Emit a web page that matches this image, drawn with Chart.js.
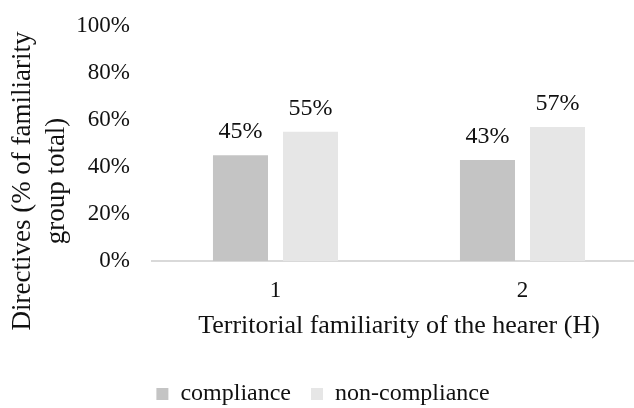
<!DOCTYPE html>
<html>
<head>
<meta charset="utf-8">
<script src="https://cdn.jsdelivr.net/npm/chart.js@4"></script>
<style>
  body { margin: 0; overflow: hidden; background: #fff; }
  #wrap { width: 646px; height: 408px; }
</style>
</head>
<body>
<div id="wrap"><canvas id="grafica"></canvas></div>
<script>
const categorias = ['1', '2'];
const compliance = [45, 43];
const nonCompliance = [55, 57];
const ticksY = [0, 20, 40, 60, 80, 100];
const tituloY = ['Directives (% of familiarity', 'group total)'];

const fuente = '"Liberation Serif", "Times New Roman", serif';

// etiquetas de porcentaje encima de cada barra
const etiquetas = {
    id: 'etiquetas',
    afterDatasetsDraw(chart) {
        const ctx = chart.ctx;
        ctx.save();
        ctx.font = '24px ' + fuente;
        ctx.fillStyle = '#111';
        ctx.textAlign = 'center';
        ctx.textBaseline = 'alphabetic';
        chart.data.datasets.forEach((ds, i) => {
            chart.getDatasetMeta(i).data.forEach((bar, j) => {
                ctx.fillText(ds.data[j] + '%', bar.x, bar.y - 17);
            });
        });
        ctx.restore();
    }
};

// titulo del eje y, en dos lineas y girado
const tituloEjeY = {
    id: 'tituloEjeY',
    afterDraw(chart) {
        const ctx = chart.ctx;
        ctx.save();
        ctx.font = '27px ' + fuente;
        ctx.fillStyle = '#111';
        ctx.textAlign = 'center';
        ctx.textBaseline = 'middle';
        ctx.translate(23, 181);
        ctx.rotate(-Math.PI / 2);
        tituloY.forEach((linea, i) => {
            ctx.fillText(linea, 0, i * 34);
        });
        ctx.restore();
    }
};

new Chart(document.getElementById('grafica'), {
    type: 'bar',
    data: {
        labels: categorias,
        datasets: [{
            label: 'compliance',
            data: compliance,
            backgroundColor: '#c4c4c4',
            categoryPercentage: 0.567,
            barPercentage: 0.786
        }, {
            label: 'non-compliance',
            data: nonCompliance,
            backgroundColor: '#e6e6e6',
            categoryPercentage: 0.567,
            barPercentage: 0.786
        }]
    },
    options: {
        responsive: true,
        maintainAspectRatio: false,
        animation: false,
        layout: { padding: { top: 26, left: 0, right: 0, bottom: -8 } },
        scales: {
            x: {
                afterFit: scale => { scale.height = 101; },
                grid: { display: false, drawTicks: false },
                border: { color: '#d9d9d9', width: 2 },
                ticks: { color: '#111', font: { family: fuente, size: 23 }, padding: 16 },
                title: {
                    display: true,
                    text: 'Territorial familiarity of the hearer (H)',
                    color: '#111',
                    font: { family: fuente, size: 26 },
                    padding: { top: 0, bottom: 20 }
                }
            },
            y: {
                min: 0,
                max: 100,
                afterBuildTicks: scale => { scale.ticks = ticksY.map(v => ({ value: v })); },
                afterFit: scale => {
                    scale.width = 152;
                    scale.paddingTop = 0;
                    scale.paddingBottom = 0;
                },
                grid: { display: false, drawTicks: false },
                border: { display: false },
                ticks: {
                    color: '#111',
                    font: { family: fuente, size: 23 },
                    padding: 22,
                    callback: v => v + '%'
                }
            }
        },
        plugins: {
            legend: {
                position: 'bottom',
                labels: {
                    color: '#111',
                    font: { family: fuente, size: 24 },
                    boxWidth: 12,
                    boxHeight: 12,
                    padding: 20
                }
            },
            tooltip: { enabled: false }
        }
    },
    plugins: [etiquetas, tituloEjeY]
});
</script>
</body>
</html>
